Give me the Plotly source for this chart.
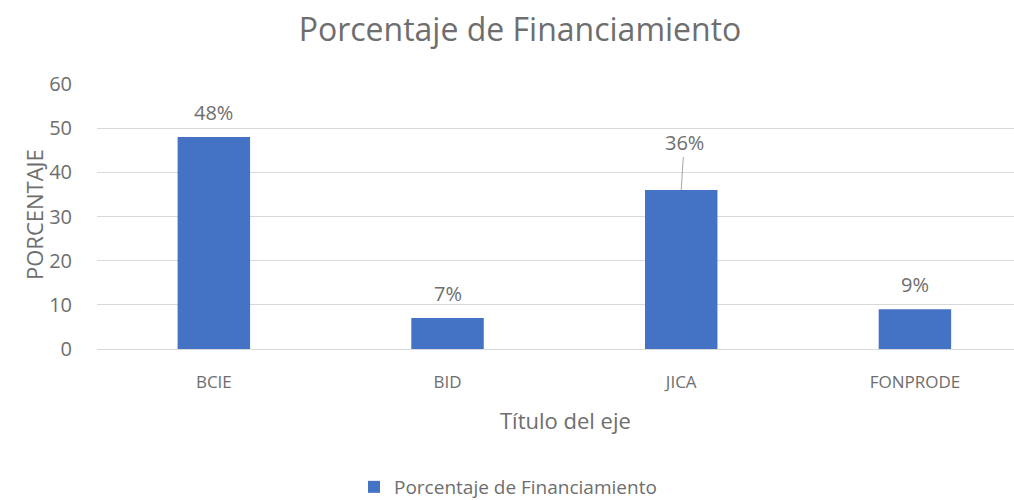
import plotly.graph_objects as go

categories = ["BCIE", "BID", "JICA", "FONPRODE"]
values = [48, 7, 36, 9]
labels = ["48%", "7%", "36%", "9%"]
series_name = "Porcentaje de Financiamiento"
y_ticks = [0, 10, 20, 30, 40, 50, 60]

TXT = "#6E6E6E"
FONT = "'Open Sans', sans-serif"

fig = go.Figure()
fig.add_trace(go.Bar(
    x=categories, y=values, name=series_name,
    marker=dict(color="#4472C4", line=dict(width=0)),
    width=0.31,
))

annotations = []
for c, v, t in zip(categories, values, labels):
    if t == "36%":
        annotations.append(dict(
            x=c, y=v, xref="x", yref="y", text=t, showarrow=True,
            arrowhead=0, arrowwidth=1, arrowcolor="#A6A6A6",
            ax=3, ay=-48, font=dict(size=20, color=TXT, family=FONT),
            standoff=0,
        ))
    else:
        annotations.append(dict(
            x=c, y=v, xref="x", yref="y", text=t, showarrow=False,
            yshift=25, font=dict(size=20, color=TXT, family=FONT),
        ))

L, R, T, B = 97, 0, 84, 151
W, H = 1014, 500
pw, ph = W - L - R, H - T - B


def px2paper(px, py):
    return (px - L) / pw, (H - B - py) / ph


x1, y1 = px2paper(565, 420)
annotations.append(dict(
    text="Título del eje", x=x1, y=y1, xref="paper", yref="paper",
    xanchor="center", yanchor="middle", showarrow=False,
    font=dict(size=22, color=TXT, family=FONT),
))
x2, y2 = px2paper(34, 215)
annotations.append(dict(
    text="PORCENTAJE", x=x2, y=y2, xref="paper", yref="paper", textangle=-90,
    xanchor="center", yanchor="middle", showarrow=False,
    font=dict(size=22, color=TXT, family=FONT),
))

lx, ly = px2paper(508, 487)
fig.update_layout(
    width=W, height=H,
    margin=dict(l=L, r=R, t=T, b=B, autoexpand=False),
    paper_bgcolor="white", plot_bgcolor="white",
    title=dict(text="Porcentaje de Financiamiento", x=520 / W, xanchor="center",
               y=1 - 30 / H, yanchor="middle",
               font=dict(size=32, color=TXT, family=FONT)),
    font=dict(family=FONT, color=TXT),
    showlegend=True,
    legend=dict(orientation="h", x=lx, xanchor="center", y=ly, yanchor="middle",
                font=dict(size=19, color=TXT, family=FONT), itemwidth=30),
    annotations=annotations,
)
fig.update_xaxes(
    range=[-0.5, 3.424], showgrid=False, showline=False, zeroline=False,
    automargin=False,
    ticks="outside", ticklen=18, tickcolor="rgba(0,0,0,0)",
    tickfont=dict(size=17, color=TXT, family=FONT),
)
fig.update_yaxes(
    range=[0, 60], tickvals=y_ticks, showgrid=True, gridcolor="#D9D9D9", gridwidth=1,
    zeroline=True, zerolinecolor="#D9D9D9", zerolinewidth=1, showline=False,
    automargin=False,
    ticks="outside", ticklen=20, tickcolor="rgba(0,0,0,0)",
    tickfont=dict(size=20, color=TXT, family=FONT),
)

fig.write_html("out.html", config={"displayModeBar": False},
               post_script="document.body.style.margin='0';")
